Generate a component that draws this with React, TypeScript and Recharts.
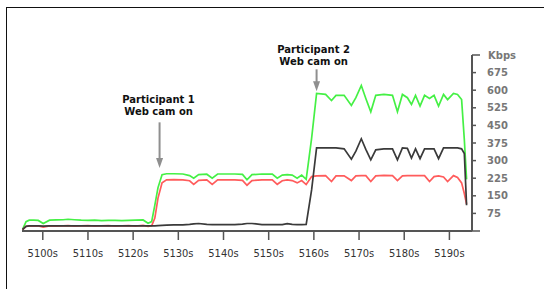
import React from "react";
import { LineChart, Line, XAxis, YAxis, ReferenceLine, ReferenceDot } from "recharts";

// Time (seconds) of each sample
const times = [
  5095.5, 5096.3, 5097, 5098, 5099, 5100.1, 5101.5, 5103, 5104.5, 5105.6,
  5107, 5108.5, 5110, 5111.5, 5113, 5114.5, 5116, 5117.5, 5119, 5120.5,
  5122.2, 5123.3, 5124.1, 5124.8, 5125.5, 5126.4, 5127.4, 5129, 5131, 5132.5,
  5133.4, 5134.5, 5136.3, 5137.5, 5138.7, 5140.5, 5142.5, 5144.2, 5145.2, 5146.3,
  5148.5, 5150.8, 5151.9, 5153, 5154.1, 5155.2, 5156.3, 5157.3, 5158.3, 5159.5,
  5160.6, 5162.6, 5163.9, 5164.9, 5166.7, 5168.3, 5169.3, 5170.5, 5171.5, 5172.6,
  5173.7, 5175.5, 5177.4, 5178.5, 5179.6, 5180.7, 5181.6, 5182.5, 5183.5, 5184.5,
  5185.6, 5186.6, 5187.6, 5188.7, 5189.6, 5190.9, 5191.8, 5192.7, 5193.3, 5193.8,
];

// Kbps values
const greenKbps = [
  6, 40, 46, 46, 45, 32, 46, 47, 48, 50,
  48, 46, 45, 46, 44, 45, 45, 44, 45, 46,
  47, 33, 40, 110, 185, 240, 244, 244, 243, 236,
  225, 240, 242, 225, 243, 243, 243, 241, 218, 240,
  243, 242, 225, 238, 240, 238, 225, 238, 220, 395,
  586, 582, 556, 578, 578, 535, 568, 620, 565, 508,
  578, 582, 578, 508, 582, 568, 539, 578, 532, 578,
  565, 578, 532, 582, 560, 586, 582, 560, 390, 220,
];

const blackKbps = [
  6, 20, 22, 22, 22, 21, 22, 22, 22, 22,
  22, 22, 22, 22, 22, 22, 22, 22, 22, 22,
  22, 22, 22, 22, 23, 24, 25, 26, 26, 28,
  30, 32, 28, 27, 27, 27, 27, 29, 32, 32,
  27, 27, 27, 27, 31, 28, 27, 27, 28, 175,
  354, 354, 354, 354, 350, 306, 340, 393, 348, 303,
  346, 350, 350, 303, 354, 352, 311, 350, 308, 350,
  350, 350, 308, 354, 354, 354, 354, 350, 330, 110,
];

const redKbps = [
  5, 20, 22, 21, 22, 17, 22, 21, 22, 23,
  21, 22, 23, 21, 22, 23, 21, 22, 23, 21,
  24, 20, 22, 55, 140, 205, 218, 219, 218, 214,
  199, 216, 218, 199, 218, 218, 218, 216, 195, 215,
  218, 218, 199, 214, 218, 215, 205, 215, 198, 232,
  235, 236, 211, 235, 235, 215, 235, 236, 236, 211,
  235, 237, 236, 215, 235, 236, 236, 236, 236, 236,
  211, 232, 235, 230, 211, 236, 228, 205, 160, 115,
];

const xTicks = [5100, 5110, 5120, 5130, 5140, 5150, 5160, 5170, 5180, 5190];
const yTicks = [0, 75, 150, 225, 300, 375, 450, 525, 600, 675, 750];
const unitLabel = "Kbps";

// Annotations
const annotationTimes = [5125.85, 5160.6];
const annotationLines = [
  ["Participant 1", "Web cam on"],
  ["Participant 2", "Web cam on"],
];
const annotationTextKbps = [561, 772];
const arrowTopKbps = [463, 689];
const arrowTipKbps = [268, 596];
const annotationTextShift = [-1, -3];

const data = times.map((t, i) => ({
  t,
  green: greenKbps[i],
  black: blackKbps[i],
  red: redKbps[i],
}));

const YTick = (props: any) => {
  const { x, y, payload } = props;
  const v = payload.value;
  const long = v === 0 || v === 750;
  const label = v === 750 ? unitLabel : v === 0 ? "" : String(v);
  return (
    <g>
      <line x1={x} x2={x + (long ? 8 : 4)} y1={y} y2={y} stroke="#555" strokeWidth={1.5} />
      {label && (
        <text
          x={x + (v === 750 ? 16 : 15)}
          y={y}
          dy="0.36em"
          textAnchor="start"
          fill="#777"
          fontSize={10}
          fontWeight="bold"
          fontFamily="'DejaVu Sans', Verdana, sans-serif"
        >
          {label}
        </text>
      )}
    </g>
  );
};

const makeLabelShape = (lines: string[], shift: number) => (props: any) => {
  const { cx, cy } = props;
  return (
    <g>
      {lines.map((ln, k) => (
        <text
          key={k}
          x={cx + shift}
          y={cy + k * 12}
          dy="0.36em"
          textAnchor="middle"
          fill="#111"
          fontSize={10}
          fontWeight="bold"
          fontFamily="'DejaVu Sans', Verdana, sans-serif"
        >
          {ln}
        </text>
      ))}
    </g>
  );
};

const ArrowHead = (props: any) => {
  const { cx, cy } = props;
  return <path d={`M${cx - 3.5},${cy - 10} L${cx + 3.5},${cy - 10} L${cx},${cy} Z`} fill="#8f8f8f" />;
};

export default function App() {
  return (
    <div
      style={{
        position: "absolute",
        left: 0,
        top: 0,
        width: 544,
        height: 289,
        overflow: "hidden",
        background: "#fff",
      }}
    >
      <div
        style={{
          position: "absolute",
          left: 5.5,
          top: 6.5,
          width: 700,
          height: 500,
          border: "1.5px solid #111",
        }}
      />
      <div style={{ position: "absolute", left: 0, top: 0 }}>
        <LineChart
          width={544}
          height={289}
          data={data}
          margin={{ top: 55, right: 0, bottom: 0, left: 22 }}
        >
          <XAxis
            dataKey="t"
            type="number"
            domain={[5095.4, 5195]}
            allowDataOverflow
            ticks={xTicks}
            interval={0}
            tickFormatter={(v: number) => `${v}s`}
            height={58}
            tickSize={9}
            tickMargin={9.5}
            axisLine={{ stroke: "#555", strokeWidth: 2 }}
            tickLine={{ stroke: "#555", strokeWidth: 1.5 }}
            tick={{
              fill: "#333",
              fontSize: 11,
              fontFamily: "'Liberation Sans Narrow', 'DejaVu Sans Condensed', sans-serif",
            }}
          />
          <YAxis
            orientation="right"
            type="number"
            domain={[0, 750]}
            ticks={yTicks}
            interval={0}
            width={72}
            tickSize={0}
            tickMargin={0}
            axisLine={{ stroke: "#555", strokeWidth: 2 }}
            tickLine={false}
            tick={<YTick />}
          />
          <Line
            type="linear"
            dataKey="green"
            stroke="#45f045"
            strokeWidth={1.7}
            dot={false}
            isAnimationActive={false}
          />
          <Line
            type="linear"
            dataKey="red"
            stroke="#ff5c5c"
            strokeWidth={1.7}
            dot={false}
            isAnimationActive={false}
          />
          <Line
            type="linear"
            dataKey="black"
            stroke="#3a3a3a"
            strokeWidth={1.7}
            dot={false}
            isAnimationActive={false}
          />
          {annotationTimes.map((t, i) => (
            <ReferenceLine
              key={`arrow-${i}`}
              segment={[
                { x: t, y: arrowTopKbps[i] },
                { x: t, y: arrowTipKbps[i] + 20 },
              ]}
              stroke="#8f8f8f"
              strokeWidth={2}
              ifOverflow="visible"
            />
          ))}
          {annotationTimes.map((t, i) => (
            <ReferenceDot
              key={`head-${i}`}
              x={t}
              y={arrowTipKbps[i]}
              r={0}
              ifOverflow="visible"
              shape={<ArrowHead />}
            />
          ))}
          {annotationTimes.map((t, i) => (
            <ReferenceDot
              key={`text-${i}`}
              x={t}
              y={annotationTextKbps[i]}
              r={0}
              ifOverflow="visible"
              shape={makeLabelShape(annotationLines[i], annotationTextShift[i])}
            />
          ))}
        </LineChart>
      </div>
    </div>
  );
}
